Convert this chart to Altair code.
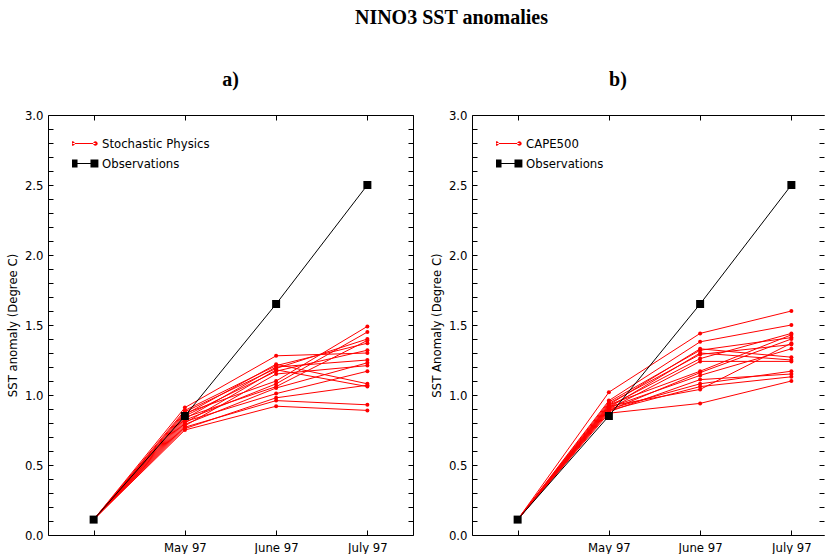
import json
import altair as alt
import pandas as pd

# ---------------- data ----------------
steps = [0, 1, 2, 3]
tick_labels = ["", "May 97", "June 97", "July 97"]
initial_value = 0.11
obs_values = [0.11, 0.85, 1.65, 2.50]

# panel a) Stochastic Physics ensemble (one entry per member)
a_may = [0.91, 0.86, 0.89, 0.83, 0.88, 0.80, 0.85, 0.78, 0.87, 0.82, 0.84, 0.79, 0.81, 0.76, 0.77, 0.75]
a_june = [1.28, 1.22, 1.21, 1.20, 1.19, 1.18, 1.17, 1.15, 1.10, 1.08, 1.06, 1.05, 1.01, 0.98, 0.96, 0.92]
a_july = [1.30, 1.08, 1.37, 1.25, 1.40, 1.06, 1.32, 1.21, 1.49, 1.45, 1.39, 1.23, 1.17, 1.07, 0.93, 0.89]

# panel b) CAPE500 ensemble
b_may = [1.02, 0.96, 0.93, 0.95, 0.91, 0.94, 0.92, 0.90, 0.93, 0.89, 0.91, 0.88, 0.90, 0.89, 0.92, 0.87]
b_june = [1.44, 1.38, 1.33, 1.32, 1.30, 1.29, 1.26, 1.24, 1.17, 1.16, 1.14, 1.11, 1.08, 1.06, 1.04, 0.94]
b_july = [1.60, 1.50, 1.27, 1.41, 1.25, 1.36, 1.44, 1.24, 1.43, 1.40, 1.33, 1.15, 1.17, 1.13, 1.37, 1.10]

y_ticks = [round(i * 0.1, 1) for i in range(31)]

SANS = "Liberation Sans Narrow, DejaVu Sans Condensed, Arial Narrow, sans-serif"
SERIF = "Liberation Serif, Times New Roman, serif"

RED_SYMBOL = ("M-0.95,-0.045L0.95,-0.045L0.95,0.045L-0.95,0.045Z "
              "M-1.14,0A0.19,0.19 0 1,0 -0.76,0A0.19,0.19 0 1,0 -1.14,0Z "
              "M0.76,0A0.19,0.19 0 1,0 1.14,0A0.19,0.19 0 1,0 0.76,0Z")
OBS_SYMBOL = ("M-0.87,-0.045L0.87,-0.045L0.87,0.045L-0.87,0.045Z "
              "M-1.2,-0.33L-0.54,-0.33L-0.54,0.33L-1.2,0.33Z "
              "M0.54,-0.33L1.2,-0.33L1.2,0.33L0.54,0.33Z")

label_expr_x = json.dumps(tick_labels) + "[round(datum.value)]"
label_expr_y = "abs(datum.value * 2 - round(datum.value * 2)) < 0.001 ? format(datum.value, '.1f') : ''"

TICK = 5
PX_PER_STEP = 91.25


def ax(**kw):
    base = dict(grid=False, domainColor="black", tickColor="black", labelColor="black",
                titleColor="black", labelFont=SANS, titleFont=SANS, labelFontSize=13,
                titleFontSize=13, titleFontWeight="normal", tickWidth=1, domainWidth=1)
    base.update(kw)
    return alt.Axis(**base)


def panel(letter, title_dx, series_name, ytitle, may, june, july, width, right_frame):
    xmax = width / PX_PER_STEP - 0.5
    rows = []
    for m in range(len(may)):
        for s, v in zip(steps, [initial_value, may[m], june[m], july[m]]):
            rows.append({"member": m, "step": s, "value": v})
    ens = pd.DataFrame(rows)
    obs = pd.DataFrame({"step": steps, "value": obs_values, "series": ["Observations"] * 4})

    xs = alt.Scale(domain=[-0.5, xmax], nice=False, zero=False)
    ys = alt.Scale(domain=[0, 3], nice=False, zero=False)

    x_bottom = ax(orient="bottom", offset=-TICK, tickSize=TICK, domain=False, values=steps,
                  labelExpr=label_expr_x, labelPadding=6, labelOverlap=False, title=None)
    y_left = ax(orient="left", offset=-TICK, tickSize=TICK, domain=False, values=y_ticks,
                labelExpr=label_expr_y, labelPadding=5, labelOverlap=False, labelFlush=False,
                title=ytitle, titlePadding=5)
    x_top = ax(orient="top", offset=-TICK, tickSize=TICK, domain=False, values=steps,
               labels=False, title=None)
    y_right = ax(orient="right", offset=-TICK, tickSize=TICK, domain=False, values=y_ticks,
                 labels=False, title=None)
    x_dom_b = ax(orient="bottom", ticks=False, labels=False, domain=True, title=None)
    y_dom_l = ax(orient="left", ticks=False, labels=False, domain=True, title=None)
    x_dom_t = ax(orient="top", ticks=False, labels=False, domain=True, title=None)
    y_dom_r = ax(orient="right", ticks=False, labels=False, domain=True, title=None)

    red_lines = alt.Chart(ens).mark_line(color="red", strokeWidth=1).encode(
        x=alt.X("step:Q", scale=xs, axis=x_bottom),
        y=alt.Y("value:Q", scale=ys, axis=y_left),
        detail="member:N",
    )
    red_pts = alt.Chart(ens).mark_point(filled=True, color="red", size=16, opacity=1).encode(
        x=alt.X("step:Q", scale=xs, axis=x_top),
        y=alt.Y("value:Q", scale=ys, axis=y_right),
    )
    obs_line = alt.Chart(obs).mark_line(color="black", strokeWidth=1).encode(
        x=alt.X("step:Q", scale=xs, axis=x_dom_b),
        y=alt.Y("value:Q", scale=ys, axis=y_dom_l),
    )
    if right_frame:
        y4 = alt.Y("value:Q", scale=ys, axis=y_dom_r)
    else:
        y4 = alt.Y("value:Q", scale=ys, axis=None)
    obs_pts = alt.Chart(obs).mark_square(filled=True, color="black", size=64, opacity=1).encode(
        x=alt.X("step:Q", scale=xs, axis=x_dom_t),
        y=y4,
    )
    dom = [series_name, "Observations"]
    leg = alt.Legend(orient="none", legendX=24, legendY=21, title=None, padding=0,
                     labelFont=SANS, labelFontSize=13, labelColor="black", labelOffset=6,
                     symbolSize=576, clipHeight=15, rowPadding=5, symbolStrokeWidth=0)
    legend_layer = alt.Chart(obs).mark_point(filled=True, size=576, opacity=1).encode(
        x=alt.X("step:Q", scale=xs, axis=None),
        y=alt.Y("value:Q", scale=ys, axis=None),
        color=alt.Color("series:N", scale=alt.Scale(domain=dom, range=["red", "black"]), legend=leg),
        shape=alt.Shape("series:N", scale=alt.Scale(domain=dom, range=[RED_SYMBOL, OBS_SYMBOL]), legend=leg),
    ).transform_filter("datum.value < -1")

    return alt.layer(red_lines, red_pts, obs_line, obs_pts, legend_layer).resolve_axis(
        x="independent", y="independent"
    ).properties(
        width=width, height=420,
        title=alt.TitleParams(letter, font=SERIF, fontSize=20, fontWeight="bold",
                              anchor="middle", offset=19, color="black", dx=title_dx),
    )


pa = panel("a)", 0, "Stochastic Physics", "SST anomaly (Degree C)", a_may, a_june, a_july, 365, True)
pb = panel("b)", -30, "CAPE500", "SST Anomaly (Degree C)", b_may, b_june, b_july, 352, False)

chart = alt.hconcat(pa, pb, spacing=16).resolve_scale(
    x="independent", y="independent", color="independent", shape="independent"
).resolve_legend(color="independent", shape="independent").properties(
    title=alt.TitleParams("NINO3 SST anomalies", font=SERIF, fontSize=20, fontWeight="bold",
                          anchor="middle", color="black", offset=42, dx=36),
    padding={"left": 6, "top": 8, "right": 0, "bottom": 0},
    background="white",
).configure_view(strokeWidth=0)

chart.save("out.html", embed_options={"renderer": "svg", "actions": False})
